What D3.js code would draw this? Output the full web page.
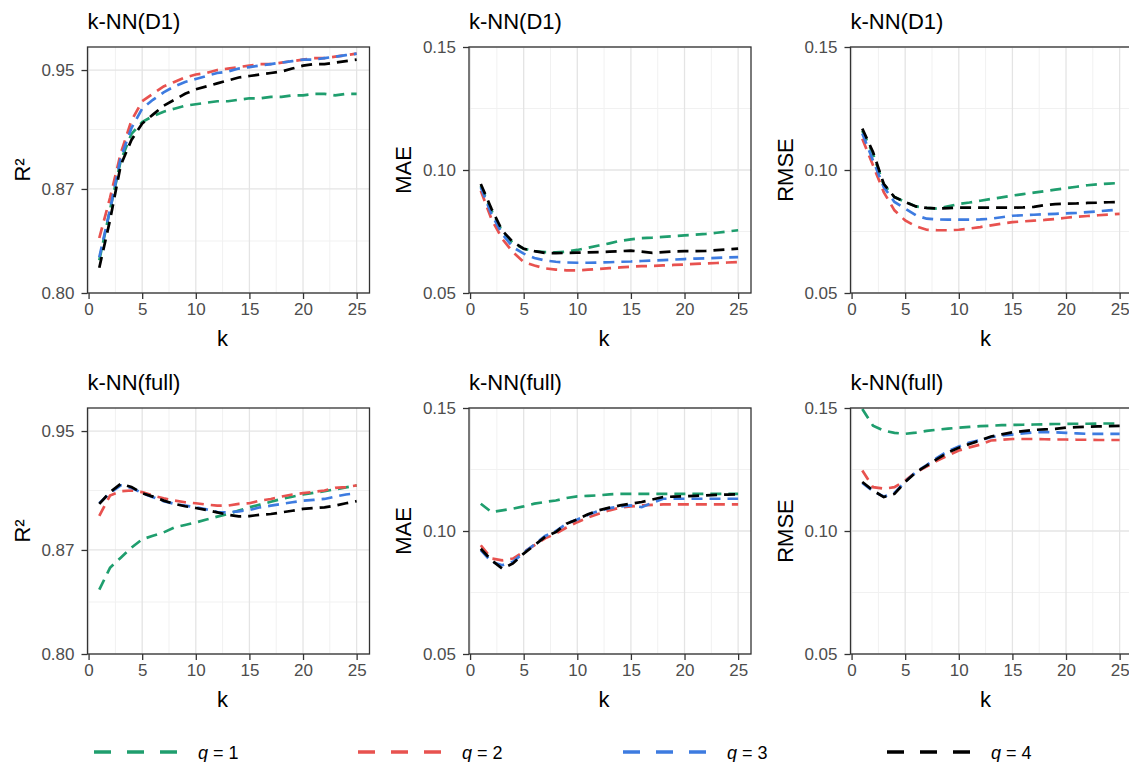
<!DOCTYPE html>
<html lang="en">
<head>
<meta charset="utf-8">
<title>k-NN: R², MAE and RMSE against k</title>
<script src="https://cdn.jsdelivr.net/npm/d3@7"></script>
<style>
  body { margin: 0; background: #fff; }
  svg { display: block; font-family: "Liberation Sans", Arial, sans-serif; }
</style>
</head>
<body>
<script>
// ---- data ----
const kValues = [1, 2, 3, 4, 5, 6, 7, 8, 9, 10, 11, 12, 13, 14, 15, 16, 17, 18, 19, 20, 21, 22, 23, 24, 25];
const qLabels = ["1", "2", "3", "4"];

// each panel: [q=1, q=2, q=3, q=4]
const r2D1 = [
  [0.822, 0.856, 0.889, 0.907, 0.915, 0.919, 0.922, 0.924, 0.926, 0.927, 0.928, 0.929, 0.929, 0.930, 0.931, 0.931, 0.932, 0.932, 0.933, 0.933, 0.934, 0.934, 0.933, 0.934, 0.934],
  [0.837, 0.864, 0.894, 0.916, 0.929, 0.934, 0.939, 0.942, 0.945, 0.947, 0.948, 0.950, 0.951, 0.952, 0.953, 0.954, 0.954, 0.955, 0.956, 0.957, 0.958, 0.958, 0.959, 0.960, 0.961],
  [0.824, 0.856, 0.891, 0.911, 0.924, 0.930, 0.935, 0.939, 0.942, 0.944, 0.946, 0.948, 0.949, 0.951, 0.952, 0.953, 0.954, 0.955, 0.956, 0.957, 0.957, 0.958, 0.959, 0.960, 0.961],
  [0.817, 0.849, 0.886, 0.903, 0.914, 0.920, 0.926, 0.930, 0.934, 0.937, 0.939, 0.941, 0.943, 0.945, 0.946, 0.947, 0.948, 0.949, 0.951, 0.953, 0.954, 0.954, 0.955, 0.956, 0.957]
];
const maeD1 = [
  [0.0935, 0.0835, 0.0750, 0.0703, 0.0680, 0.0670, 0.0666, 0.0665, 0.0668, 0.0675, 0.0684, 0.0693, 0.0702, 0.0712, 0.0718, 0.0723, 0.0725, 0.0728, 0.0731, 0.0734, 0.0737, 0.0740, 0.0745, 0.0750, 0.0755],
  [0.0916, 0.0800, 0.0720, 0.0666, 0.0626, 0.0612, 0.0600, 0.0595, 0.0592, 0.0592, 0.0595, 0.0598, 0.0601, 0.0604, 0.0607, 0.0609, 0.0610, 0.0612, 0.0614, 0.0616, 0.0618, 0.0620, 0.0622, 0.0624, 0.0626],
  [0.0930, 0.0820, 0.0740, 0.0686, 0.0660, 0.0642, 0.0632, 0.0627, 0.0624, 0.0623, 0.0623, 0.0624, 0.0625, 0.0627, 0.0628, 0.0630, 0.0632, 0.0634, 0.0636, 0.0638, 0.0640, 0.0641, 0.0643, 0.0645, 0.0646],
  [0.0943, 0.0842, 0.0754, 0.0707, 0.0680, 0.0670, 0.0663, 0.0662, 0.0663, 0.0664, 0.0665, 0.0666, 0.0668, 0.0670, 0.0672, 0.0668, 0.0663, 0.0666, 0.0669, 0.0670, 0.0670, 0.0671, 0.0674, 0.0677, 0.0680]
];
const rmseD1 = [
  [0.1160, 0.1065, 0.0940, 0.0890, 0.0870, 0.0852, 0.0846, 0.0843, 0.0852, 0.0862, 0.0868, 0.0875, 0.0882, 0.0889, 0.0896, 0.0902, 0.0908, 0.0914, 0.0920, 0.0926, 0.0932, 0.0938, 0.0942, 0.0945, 0.0947],
  [0.1127, 0.1019, 0.0910, 0.0836, 0.0795, 0.0771, 0.0757, 0.0755, 0.0755, 0.0757, 0.0762, 0.0768, 0.0775, 0.0782, 0.0788, 0.0791, 0.0794, 0.0797, 0.0801, 0.0806, 0.0810, 0.0813, 0.0816, 0.0819, 0.0822],
  [0.1148, 0.1039, 0.0931, 0.0870, 0.0843, 0.0816, 0.0802, 0.0799, 0.0798, 0.0798, 0.0798, 0.0799, 0.0802, 0.0808, 0.0814, 0.0816, 0.0818, 0.0820, 0.0822, 0.0824, 0.0826, 0.0829, 0.0832, 0.0836, 0.0839],
  [0.1168, 0.1073, 0.0944, 0.0890, 0.0870, 0.0852, 0.0846, 0.0843, 0.0845, 0.0847, 0.0847, 0.0847, 0.0847, 0.0847, 0.0847, 0.0848, 0.0850, 0.0857, 0.0861, 0.0863, 0.0864, 0.0866, 0.0867, 0.0869, 0.0870]
];
const r2Full = [
  [0.8433, 0.8580, 0.8648, 0.8716, 0.8772, 0.8795, 0.8818, 0.8851, 0.8868, 0.8885, 0.8905, 0.8924, 0.8942, 0.8965, 0.8987, 0.9005, 0.9024, 0.9043, 0.9058, 0.9073, 0.9085, 0.9095, 0.9108, 0.9121, 0.9134],
  [0.8930, 0.9066, 0.9095, 0.9100, 0.9089, 0.9066, 0.9048, 0.9032, 0.9021, 0.9014, 0.9005, 0.8998, 0.8998, 0.9010, 0.9014, 0.9032, 0.9043, 0.9059, 0.9073, 0.9082, 0.9091, 0.9100, 0.9118, 0.9123, 0.9134],
  [0.9014, 0.9084, 0.9134, 0.9118, 0.9082, 0.9055, 0.9028, 0.9010, 0.8998, 0.8987, 0.8973, 0.8955, 0.8953, 0.8960, 0.8969, 0.8987, 0.8998, 0.9010, 0.9021, 0.9032, 0.9037, 0.9043, 0.9059, 0.9073, 0.9082],
  [0.9010, 0.9089, 0.9145, 0.9123, 0.9082, 0.9059, 0.9032, 0.9010, 0.8994, 0.8982, 0.8969, 0.8953, 0.8937, 0.8926, 0.8928, 0.8937, 0.8942, 0.8953, 0.8964, 0.8976, 0.8982, 0.8987, 0.8998, 0.9014, 0.9028]
];
const maeFull = [
  [0.1111, 0.1077, 0.1084, 0.1091, 0.1100, 0.1111, 0.1118, 0.1124, 0.1134, 0.1141, 0.1143, 0.1145, 0.1149, 0.1151, 0.1151, 0.1151, 0.1151, 0.1151, 0.1151, 0.1151, 0.1151, 0.1151, 0.1151, 0.1151, 0.1151],
  [0.0942, 0.0888, 0.0881, 0.0888, 0.0915, 0.0942, 0.0970, 0.0989, 0.1014, 0.1036, 0.1055, 0.1070, 0.1084, 0.1095, 0.1100, 0.1104, 0.1106, 0.1108, 0.1108, 0.1108, 0.1108, 0.1108, 0.1108, 0.1108, 0.1108],
  [0.0922, 0.0875, 0.0861, 0.0875, 0.0912, 0.0945, 0.0980, 0.1000, 0.1030, 0.1047, 0.1066, 0.1082, 0.1093, 0.1100, 0.1104, 0.1097, 0.1115, 0.1131, 0.1131, 0.1131, 0.1131, 0.1131, 0.1131, 0.1131, 0.1131],
  [0.0928, 0.0881, 0.0847, 0.0868, 0.0908, 0.0942, 0.0976, 0.0996, 0.1030, 0.1047, 0.1068, 0.1084, 0.1095, 0.1104, 0.1111, 0.1118, 0.1128, 0.1138, 0.1140, 0.1141, 0.1143, 0.1145, 0.1147, 0.1148, 0.1149]
];
const rmseFull = [
  [0.1496, 0.1428, 0.1408, 0.1399, 0.1395, 0.1400, 0.1407, 0.1412, 0.1416, 0.1420, 0.1423, 0.1426, 0.1428, 0.1430, 0.1431, 0.1432, 0.1433, 0.1434, 0.1435, 0.1435, 0.1436, 0.1436, 0.1437, 0.1437, 0.1437],
  [0.1246, 0.1178, 0.1172, 0.1178, 0.1205, 0.1239, 0.1262, 0.1286, 0.1307, 0.1327, 0.1340, 0.1351, 0.1368, 0.1371, 0.1374, 0.1374, 0.1374, 0.1373, 0.1372, 0.1372, 0.1371, 0.1371, 0.1370, 0.1370, 0.1370],
  [0.1195, 0.1162, 0.1140, 0.1155, 0.1200, 0.1240, 0.1268, 0.1298, 0.1325, 0.1343, 0.1360, 0.1370, 0.1381, 0.1388, 0.1392, 0.1397, 0.1401, 0.1402, 0.1401, 0.1399, 0.1397, 0.1395, 0.1395, 0.1395, 0.1395],
  [0.1199, 0.1165, 0.1138, 0.1151, 0.1199, 0.1239, 0.1266, 0.1293, 0.1320, 0.1338, 0.1354, 0.1368, 0.1384, 0.1393, 0.1401, 0.1406, 0.1411, 0.1413, 0.1415, 0.1420, 0.1422, 0.1424, 0.1425, 0.1426, 0.1427]
];

const panelData = [r2D1, maeD1, rmseD1, r2Full, maeFull, rmseFull];
const panelTitles = ["k-NN(D1)", "k-NN(D1)", "k-NN(D1)", "k-NN(full)", "k-NN(full)", "k-NN(full)"];
const yLabels = ["R²", "MAE", "RMSE", "R²", "MAE", "RMSE"];
const xTicks = [0, 5, 10, 15, 20, 25];
const r2Ticks = [0.80, 0.87, 0.95];
const errTicks = [0.05, 0.10, 0.15];

// ---- styling / layout ----
const colors = ["#1f9e6e", "#e8524f", "#3d7be0", "#000000"];
const W = 1129, H = 762;
const colLeft = [87.5, 469, 850.5];
const rowTop = [47, 408];
const pw = 282, ph = 246;

const svg = d3.select("body").append("svg")
  .attr("width", W)
  .attr("height", H);

svg.append("rect").attr("width", W).attr("height", H).attr("fill", "#fff");

panelData.forEach(function (series, i) {
  const left = colLeft[i % 3], top = rowTop[Math.floor(i / 3)];
  const isR2 = yLabels[i] === "R²";
  const yTicks = isR2 ? r2Ticks : errTicks;

  const x = d3.scaleLinear().domain([-0.1, 26.2]).range([left, left + pw]);
  const y = d3.scaleLinear()
    .domain(isR2 ? [0.80, 0.9655] : [0.05, 0.15])
    .range([top + ph, top]);

  const g = svg.append("g");

  // minor grid
  const xMinor = xTicks.slice(0, -1).map(d => d + 2.5);
  const yMinor = yTicks.slice(0, -1).map((d, j) => (d + yTicks[j + 1]) / 2);
  g.selectAll(".xmin").data(xMinor).enter().append("line")
    .attr("x1", d => x(d)).attr("x2", d => x(d))
    .attr("y1", top).attr("y2", top + ph)
    .attr("stroke", "#f1f1f1").attr("stroke-width", 1);
  g.selectAll(".ymin").data(yMinor).enter().append("line")
    .attr("x1", left).attr("x2", left + pw)
    .attr("y1", d => y(d)).attr("y2", d => y(d))
    .attr("stroke", "#f1f1f1").attr("stroke-width", 1);

  // major grid
  g.selectAll(".xmaj").data(xTicks).enter().append("line")
    .attr("x1", d => x(d)).attr("x2", d => x(d))
    .attr("y1", top).attr("y2", top + ph)
    .attr("stroke", "#e4e4e4").attr("stroke-width", 1.3);
  g.selectAll(".ymaj").data(yTicks).enter().append("line")
    .attr("x1", left).attr("x2", left + pw)
    .attr("y1", d => y(d)).attr("y2", d => y(d))
    .attr("stroke", "#e4e4e4").attr("stroke-width", 1.3);

  // lines
  const line = d3.line()
    .x((d, j) => x(kValues[j]))
    .y(d => y(d));
  series.forEach(function (vals, s) {
    g.append("path")
      .datum(vals)
      .attr("d", line)
      .attr("fill", "none")
      .attr("stroke", colors[s])
      .attr("stroke-width", 2.7)
      .attr("stroke-dasharray", "11,7");
  });

  // border
  g.append("rect")
    .attr("x", left).attr("y", top)
    .attr("width", pw).attr("height", ph)
    .attr("fill", "none")
    .attr("stroke", "#333").attr("stroke-width", 1.3);

  // axes
  const xAxis = d3.axisBottom(x).tickValues(xTicks).tickSize(6).tickPadding(4)
    .tickFormat(d3.format("d"));
  const yAxis = d3.axisLeft(y).tickValues(yTicks).tickSize(6).tickPadding(7)
    .tickFormat(d3.format(".2f"));

  const gx = g.append("g").attr("transform", "translate(0," + (top + ph) + ")").call(xAxis);
  const gy = g.append("g").attr("transform", "translate(" + left + ",0)").call(yAxis);
  [gx, gy].forEach(function (a) {
    a.select(".domain").remove();
    a.selectAll("line").attr("stroke", "#333").attr("stroke-width", 1.3);
    a.selectAll("text").attr("fill", "#4d4d4d").style("font-size", "17px")
      .style("font-family", "Liberation Sans, Arial, sans-serif");
  });

  // title
  g.append("text")
    .attr("x", left).attr("y", top - 18)
    .attr("font-size", 22)
    .text(panelTitles[i]);

  // x label
  g.append("text")
    .attr("x", left + pw / 2 - 6).attr("y", top + ph + 53)
    .attr("text-anchor", "middle")
    .attr("font-size", 22)
    .text("k");

  // y label
  g.append("text")
    .attr("transform", "translate(" + (left - 58) + "," + (top + ph / 2) + ") rotate(-90)")
    .attr("text-anchor", "middle")
    .attr("font-size", 22)
    .text(yLabels[i]);
});

// legend
const legendX = [94, 358, 623, 887];
const legend = svg.append("g");
qLabels.forEach(function (q, s) {
  const lx = legendX[s];
  legend.append("line")
    .attr("x1", lx).attr("x2", lx + 84)
    .attr("y1", 752).attr("y2", 752)
    .attr("stroke", colors[s])
    .attr("stroke-width", 3.5)
    .attr("stroke-dasharray", "17,16");
  const t = legend.append("text")
    .attr("x", lx + 104).attr("y", 759)
    .attr("font-size", 18);
  t.append("tspan").attr("font-style", "italic").text("q");
  t.append("tspan").text(" = " + q);
});
</script>
</body>
</html>
